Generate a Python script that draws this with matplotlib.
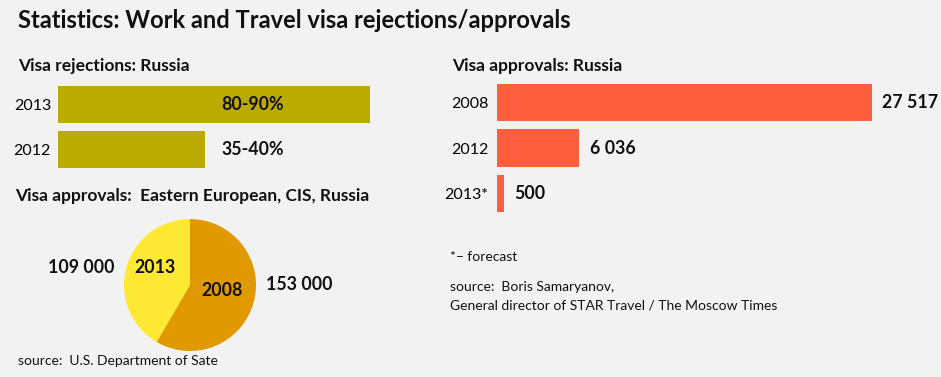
import matplotlib
matplotlib.use("Agg")
import matplotlib.pyplot as plt

# ---- data ----
rej_years = ["2013", "2012"]
rej_values = [85, 40]
rej_labels = ["80-90%", "35-40%"]

app_years = ["2008", "2012", "2013*"]
app_values = [27517, 6036, 500]
app_labels = ["27 517", "6 036", "500"]

pie_years = ["2013", "2008"]
pie_values = [109000, 153000]
pie_labels = ["109 000", "153 000"]

BG = "#f2f2f2"
OLIVE = "#bbaa00"
RED = "#ff5f3f"
YELLOW = "#fde933"
ORANGE = "#e09a00"
FONT = ["Lato", "DejaVu Sans"]

W, H = 941, 377
fig = plt.figure(figsize=(W / 100, H / 100), dpi=100, facecolor=BG)


def ax_px(x0, y0, x1, y1):
    return fig.add_axes([x0 / W, 1 - y1 / H, (x1 - x0) / W, (y1 - y0) / H])


def txt(x, y, s, size, weight="normal", ha="left", va="center"):
    fig.text(x / W, 1 - y / H, s, fontsize=size, fontweight=weight,
             ha=ha, va=va, family=FONT, color="#111111")


# titles
txt(18, 21, "Statistics: Work and Travel visa rejections/approvals", 17, "bold")
txt(18, 66, "Visa rejections: Russia", 12.5, "bold")
txt(15, 196, "Visa approvals:  Eastern European, CIS, Russia", 12.5, "bold")
txt(452, 66, "Visa approvals: Russia", 12.5, "bold")
txt(18, 361, "source:  U.S. Department of Sate", 10)
txt(450, 257, "*\u2013 forecast", 10)
txt(450, 287, "source:  Boris Samaryanov,", 10)
txt(450, 306, "General director of STAR Travel / The Moscow Times", 10)

LBL = 11.5
VAL = 12.8

# rejections bars
ax1 = ax_px(58, 82, 370, 172)
ax1.barh(range(len(rej_values)), rej_values, height=0.82, color=OLIVE)
ax1.set_xlim(0, max(rej_values))
ax1.set_ylim(len(rej_values) - 0.5, -0.5)
ax1.set_yticks(range(len(rej_years)))
ax1.set_yticklabels(rej_years, fontsize=LBL, family=FONT)
ax1.tick_params(axis="y", length=0, pad=5)
ax1.set_xticks([])
for s in ax1.spines.values():
    s.set_visible(False)
ax1.set_facecolor("none")
for i, lab in enumerate(rej_labels):
    ax1.text(44.4, i, lab, fontsize=VAL, fontweight="bold", family=FONT,
             ha="left", va="center", color="#111111", clip_on=False)

# approvals Russia bars
ax2 = ax_px(497, 80, 872, 216)
ax2.barh(range(len(app_values)), app_values, height=0.82, color=RED)
ax2.set_xlim(0, max(app_values))
ax2.set_ylim(len(app_values) - 0.5, -0.5)
ax2.set_yticks(range(len(app_years)))
ax2.set_yticklabels(app_years, fontsize=LBL, family=FONT)
ax2.tick_params(axis="y", length=0, pad=6)
ax2.set_xticks([])
for s in ax2.spines.values():
    s.set_visible(False)
ax2.set_facecolor("none")
for i, (v, lab) in enumerate(zip(app_values, app_labels)):
    ax2.annotate(lab, (v, i), xytext=(7.5, 0), textcoords="offset points",
                 fontsize=VAL, fontweight="bold", family=FONT,
                 ha="left", va="center", color="#111111", annotation_clip=False)

# pie
ax3 = ax_px(124, 219, 256, 351)
ax3.pie(pie_values, colors=[YELLOW, ORANGE], startangle=90, counterclock=True,
        radius=1, wedgeprops=dict(linewidth=0))
ax3.set_xlim(-1, 1)
ax3.set_ylim(-1, 1)
ax3.set_aspect("equal")
ax3.axis("off")
ax3.text(-0.53, 0.27, pie_years[0], fontsize=VAL, fontweight="bold", family=FONT,
         ha="center", va="center", color="#111111")
ax3.text(0.49, -0.08, pie_years[1], fontsize=VAL, fontweight="bold", family=FONT,
         ha="center", va="center", color="#111111")
ax3.text(-1.14, 0.27, pie_labels[0], fontsize=VAL, fontweight="bold", family=FONT,
         ha="right", va="center", color="#111111", clip_on=False)
ax3.text(1.15, 0.0, pie_labels[1], fontsize=VAL, fontweight="bold", family=FONT,
         ha="left", va="center", color="#111111", clip_on=False)

fig.savefig("out.png", dpi=100, facecolor=BG)
